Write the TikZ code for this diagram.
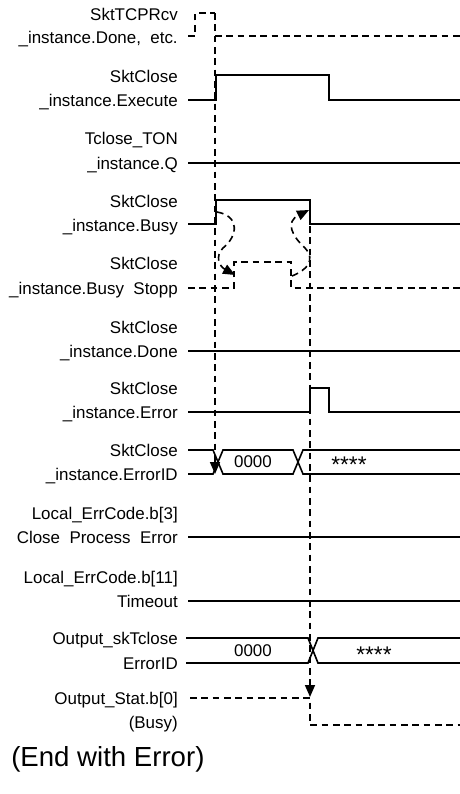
\documentclass[tikz,border=0pt]{standalone}
\usepackage{fontspec}
\setmainfont{Liberation Sans}
\usepackage{tikz}
\usetikzlibrary{arrows.meta}

\begin{document}
\begin{tikzpicture}[x=0.75pt, y=-0.75pt, >={Triangle[length=9pt, width=7.5pt]},
      font=\fontsize{12.7}{15}\selectfont,
      lbl/.style={anchor=base east, inner sep=0pt},
      sig/.style={line width=1.2pt},
      dsig/.style={line width=1.2pt, dash pattern=on 5pt off 3.5pt},
      val/.style={inner sep=0pt}]
      \useasboundingbox (0,0) rectangle (460,794);

      % signal names
      \node[lbl] (rcvA) at (178,20) {SktTCPRcv};
      \node[lbl] (rcvB) at (178,43) {\_instance.Done,\ \ etc.};
      \node[lbl] (exeA) at (178,82) {SktClose};
      \node[lbl] (exeB) at (178,106) {\_instance.Execute};
      \node[lbl] (tonA) at (178,144) {Tclose\_TON};
      \node[lbl] (tonB) at (178,169) {\_instance.Q};
      \node[lbl] (bsyA) at (178,207) {SktClose};
      \node[lbl] (bsyB) at (178,231) {\_instance.Busy};
      \node[lbl] (stpA) at (178,269) {SktClose};
      \node[lbl] (stpB) at (178,294) {\_instance.Busy\ \ Stopp};
      \node[lbl] (dneA) at (178,333) {SktClose};
      \node[lbl] (dneB) at (178,357) {\_instance.Done};
      \node[lbl] (errA) at (178,394) {SktClose};
      \node[lbl] (errB) at (178,418) {\_instance.Error};
      \node[lbl] (eidA) at (178,456) {SktClose};
      \node[lbl] (eidB) at (178,480) {\_instance.ErrorID};
      \node[lbl] (lc3A) at (178,519) {Local\_ErrCode.b[3]};
      \node[lbl] (lc3B) at (178,543) {Close\ \ Process\ \ Error};
      \node[lbl] (lc11A) at (178,583) {Local\_ErrCode.b[11]};
      \node[lbl] (lc11B) at (178,607) {Timeout};
      \node[lbl] (oeidA) at (178,644) {Output\_skTclose};
      \node[lbl] (oeidB) at (178,669) {ErrorID};
      \node[lbl] (ostA) at (178,704) {Output\_Stat.b[0]};
      \node[lbl] (ostB) at (178,728) {(Busy)};

      % waveforms
      \draw[dsig] (188,36) -- (195,36) -- (195,13) -- (215,13);
      \draw[dsig] (215,36) -- (460,36);
      \draw[sig] (188,100) -- (216,100) -- (216,75) -- (329,75) -- (329,100) -- (460,100);
      \draw[sig] (188,163) -- (460,163);
      \draw[sig] (188,224) -- (216,224) -- (216,200) -- (310,200) -- (310,224) -- (460,224);
      \draw[dsig] (188,288) -- (234,288) -- (234,262) -- (291,262) -- (291,288) -- (460,288);
      \draw[sig] (188,351) -- (460,351);
      \draw[sig] (188,412) -- (310,412) -- (310,388) -- (329,388) -- (329,412) -- (460,412);
      \draw[sig] (188,450) -- (213,450) -- (223,474) -- (293,474) -- (303,450) -- (460,450);
      \draw[sig] (188,474) -- (213,474) -- (223,450) -- (293,450) -- (303,474) -- (460,474);
      \draw[sig] (188,537) -- (460,537);
      \draw[sig] (188,601) -- (460,601);
      \draw[sig] (186,638) -- (308,638) -- (318,663) -- (460,663);
      \draw[sig] (186,663) -- (308,663) -- (318,638) -- (460,638);
      \draw[dsig] (190,698) -- (310,698) -- (310,725) -- (460,725);

      \node[val] (eid0) at (253,462) {0000};
      \node[val, anchor=base, font=\fontsize{17}{17}\selectfont] (eidX) at (349,472) {****};
      \node[val] (oeid0) at (253,651) {0000};
      \node[val, anchor=base, font=\fontsize{17}{17}\selectfont] (oeidX) at (374,662) {****};

      % timing arrows
      \coordinate (rcvfall) at (215,13);
      \coordinate (eidset) at (215,474);
      \coordinate (bsyup) at (217,212);
      \coordinate (stpup) at (235,275);
      \coordinate (stpdn) at (292,276);
      \coordinate (bsydn) at (309,210);
      \coordinate (bsyend) at (310,226);
      \coordinate (ostdn) at (310,697);
      \draw[dsig, ->] (rcvfall) -- (eidset);
      \draw[dsig, ->] (bsyup) .. controls (240,216) and (238,236) .. (223,248)
            .. controls (215,256) and (219,266) .. (stpup);
      \draw[dsig, ->] (stpdn) .. controls (307,270) and (316,260) .. (305,248)
            .. controls (292,236) and (285,222) .. (bsydn);
      \draw[dsig, ->] (bsyend) -- (ostdn);

      \node[anchor=base west, inner sep=0pt, font=\fontsize{20.7}{24}\selectfont] (title) at (11,766) {(End with Error)};
\end{tikzpicture}
\end{document}
